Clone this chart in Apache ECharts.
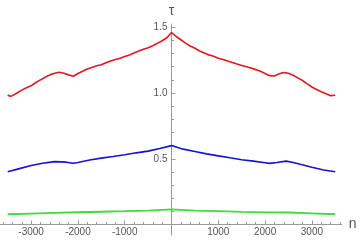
<!DOCTYPE html>
<html><head><meta charset="utf-8">
<script src="https://cdn.jsdelivr.net/npm/echarts@6/dist/echarts.min.js"></script>
<style>html,body{margin:0;padding:0;background:#fff}#c{width:360px;height:242px}</style>
</head><body><div id="c"></div>
<script>
const redN = [-3500,-3450,-3400,-3300,-3200,-3100,-3000,-2900,-2800,-2700,-2600,-2500,-2400,-2300,-2200,-2100,-2000,-1900,-1800,-1700,-1600,-1500,-1400,-1300,-1200,-1100,-1000,-900,-800,-700,-600,-500,-400,-300,-200,-100,0,100,200,300,400,500,600,700,800,900,1000,1100,1200,1300,1400,1500,1600,1700,1800,1900,2000,2100,2200,2300,2400,2500,2600,2700,2800,2900,3000,3100,3200,3300,3400,3500];
const redTau = [0.985,0.975,0.98,1.0,1.022,1.04,1.055,1.08,1.1,1.12,1.138,1.15,1.158,1.15,1.138,1.128,1.148,1.165,1.183,1.195,1.207,1.215,1.23,1.243,1.255,1.265,1.277,1.29,1.305,1.32,1.333,1.345,1.36,1.378,1.398,1.42,1.46,1.43,1.405,1.38,1.358,1.34,1.32,1.305,1.29,1.28,1.265,1.255,1.243,1.232,1.22,1.21,1.2,1.19,1.178,1.165,1.148,1.132,1.13,1.147,1.156,1.15,1.135,1.115,1.095,1.07,1.046,1.027,1.01,0.995,0.98,0.983];
const blueN = [-3500,-3250,-3000,-2750,-2500,-2250,-2100,-2000,-1750,-1500,-1250,-1000,-750,-500,-250,0,250,500,750,1000,1250,1500,1750,2000,2100,2250,2450,2600,2750,3000,3250,3500];
const blueTau = [0.401,0.425,0.448,0.466,0.478,0.474,0.466,0.472,0.49,0.505,0.517,0.53,0.545,0.558,0.578,0.6,0.573,0.555,0.537,0.522,0.507,0.493,0.482,0.47,0.465,0.472,0.482,0.472,0.458,0.435,0.415,0.401];
const greenN = [-3500,-3000,-2500,-2000,-1500,-1000,-500,0,500,1000,1500,2000,2500,3000,3500];
const greenTau = [0.078,0.083,0.088,0.093,0.097,0.101,0.106,0.115,0.106,0.101,0.096,0.092,0.091,0.085,0.078];
const xMajor = [-3000,-2000,-1000,1000,2000,3000];
const xMinor = [-3600,-3400,-3200,-2800,-2600,-2400,-2200,-1800,-1600,-1400,-1200,-800,-600,-400,-200,200,400,600,800,1200,1400,1600,1800,2200,2400,2600,2800,3200,3400,3600];
const yMajor = [0.5,1.0,1.5];
const yMinor = [0.1,0.2,0.3,0.4,0.6,0.7,0.8,0.9,1.1,1.2,1.3,1.4];

const zip = (a,b)=>a.map((v,i)=>[v,b[i]]);
const font = 'Liberation Sans';
const axisCol = '#9a9a9a';
const lblCol = '#555';
const X_MIN = -3665, X_MAX = 3637, Y_MIN = -0.08, Y_MAX = 1.525;
const grid = {left:0,right:18.3,top:24,bottom:7,containLabel:false,outerBoundsMode:'none'};
function build(xOff, yOff){
  return {
    animation:false,
    grid:grid,
    xAxis:[{
      type:'value',min:X_MIN,max:X_MAX,position:'bottom',offset:xOff,
      name:'n',nameLocation:'end',nameGap:7,
      nameTextStyle:{fontFamily:font,fontSize:14,color:lblCol},
      axisLine:{onZero:false,lineStyle:{color:axisCol,width:1}},
      axisTick:{inside:true,length:4,customValues:xMajor,lineStyle:{color:axisCol}},
      axisLabel:{customValues:xMajor,fontFamily:font,fontSize:10,color:lblCol,margin:3,formatter:v=>String(v)},
      splitLine:{show:false}
    },{
      type:'value',min:X_MIN,max:X_MAX,position:'bottom',offset:xOff,
      axisLine:{onZero:false,show:false},
      axisTick:{inside:true,length:2.5,customValues:xMinor,lineStyle:{color:axisCol}},
      axisLabel:{show:false},splitLine:{show:false}
    }],
    yAxis:[{
      type:'value',min:Y_MIN,max:Y_MAX,position:'left',offset:yOff,
      name:'τ',nameLocation:'end',nameGap:6,
      nameTextStyle:{fontFamily:font,fontSize:14,color:lblCol,align:'center'},
      axisLine:{onZero:false,lineStyle:{color:axisCol,width:1}},
      axisTick:{inside:true,length:4,customValues:yMajor,lineStyle:{color:axisCol}},
      axisLabel:{customValues:yMajor,fontFamily:font,fontSize:10,color:lblCol,margin:4,formatter:v=>v.toFixed(1)},
      splitLine:{show:false}
    },{
      type:'value',min:Y_MIN,max:Y_MAX,position:'left',offset:yOff,
      axisLine:{onZero:false,show:false},
      axisTick:{inside:true,length:2.5,customValues:yMinor,lineStyle:{color:axisCol}},
      axisLabel:{show:false},splitLine:{show:false}
    }],
    series:[
      {type:'line',data:zip(greenN,greenTau),showSymbol:false,lineStyle:{color:'#3ddc3d',width:1.8},z:3},
      {type:'line',data:zip(blueN,blueTau),showSymbol:false,lineStyle:{color:'#1414d0',width:1.6},z:3},
      {type:'line',data:zip(redN,redTau),showSymbol:false,lineStyle:{color:'#e4161e',width:1.6},z:3}
    ]
  };
}
const chart = echarts.init(document.getElementById('c'));
chart.setOption(build(0,0));
// place axes through the origin using the library's own scales
const rect = chart.getModel().getComponent('grid',0).coordinateSystem.getRect();
const px0 = chart.convertToPixel({xAxisIndex:0}, 0);
const py0 = chart.convertToPixel({yAxisIndex:0}, 0);
const xOff = -((rect.y + rect.height) - py0);
const yOff = -(px0 - rect.x);
chart.setOption(build(xOff, yOff), true);
</script></body></html>
